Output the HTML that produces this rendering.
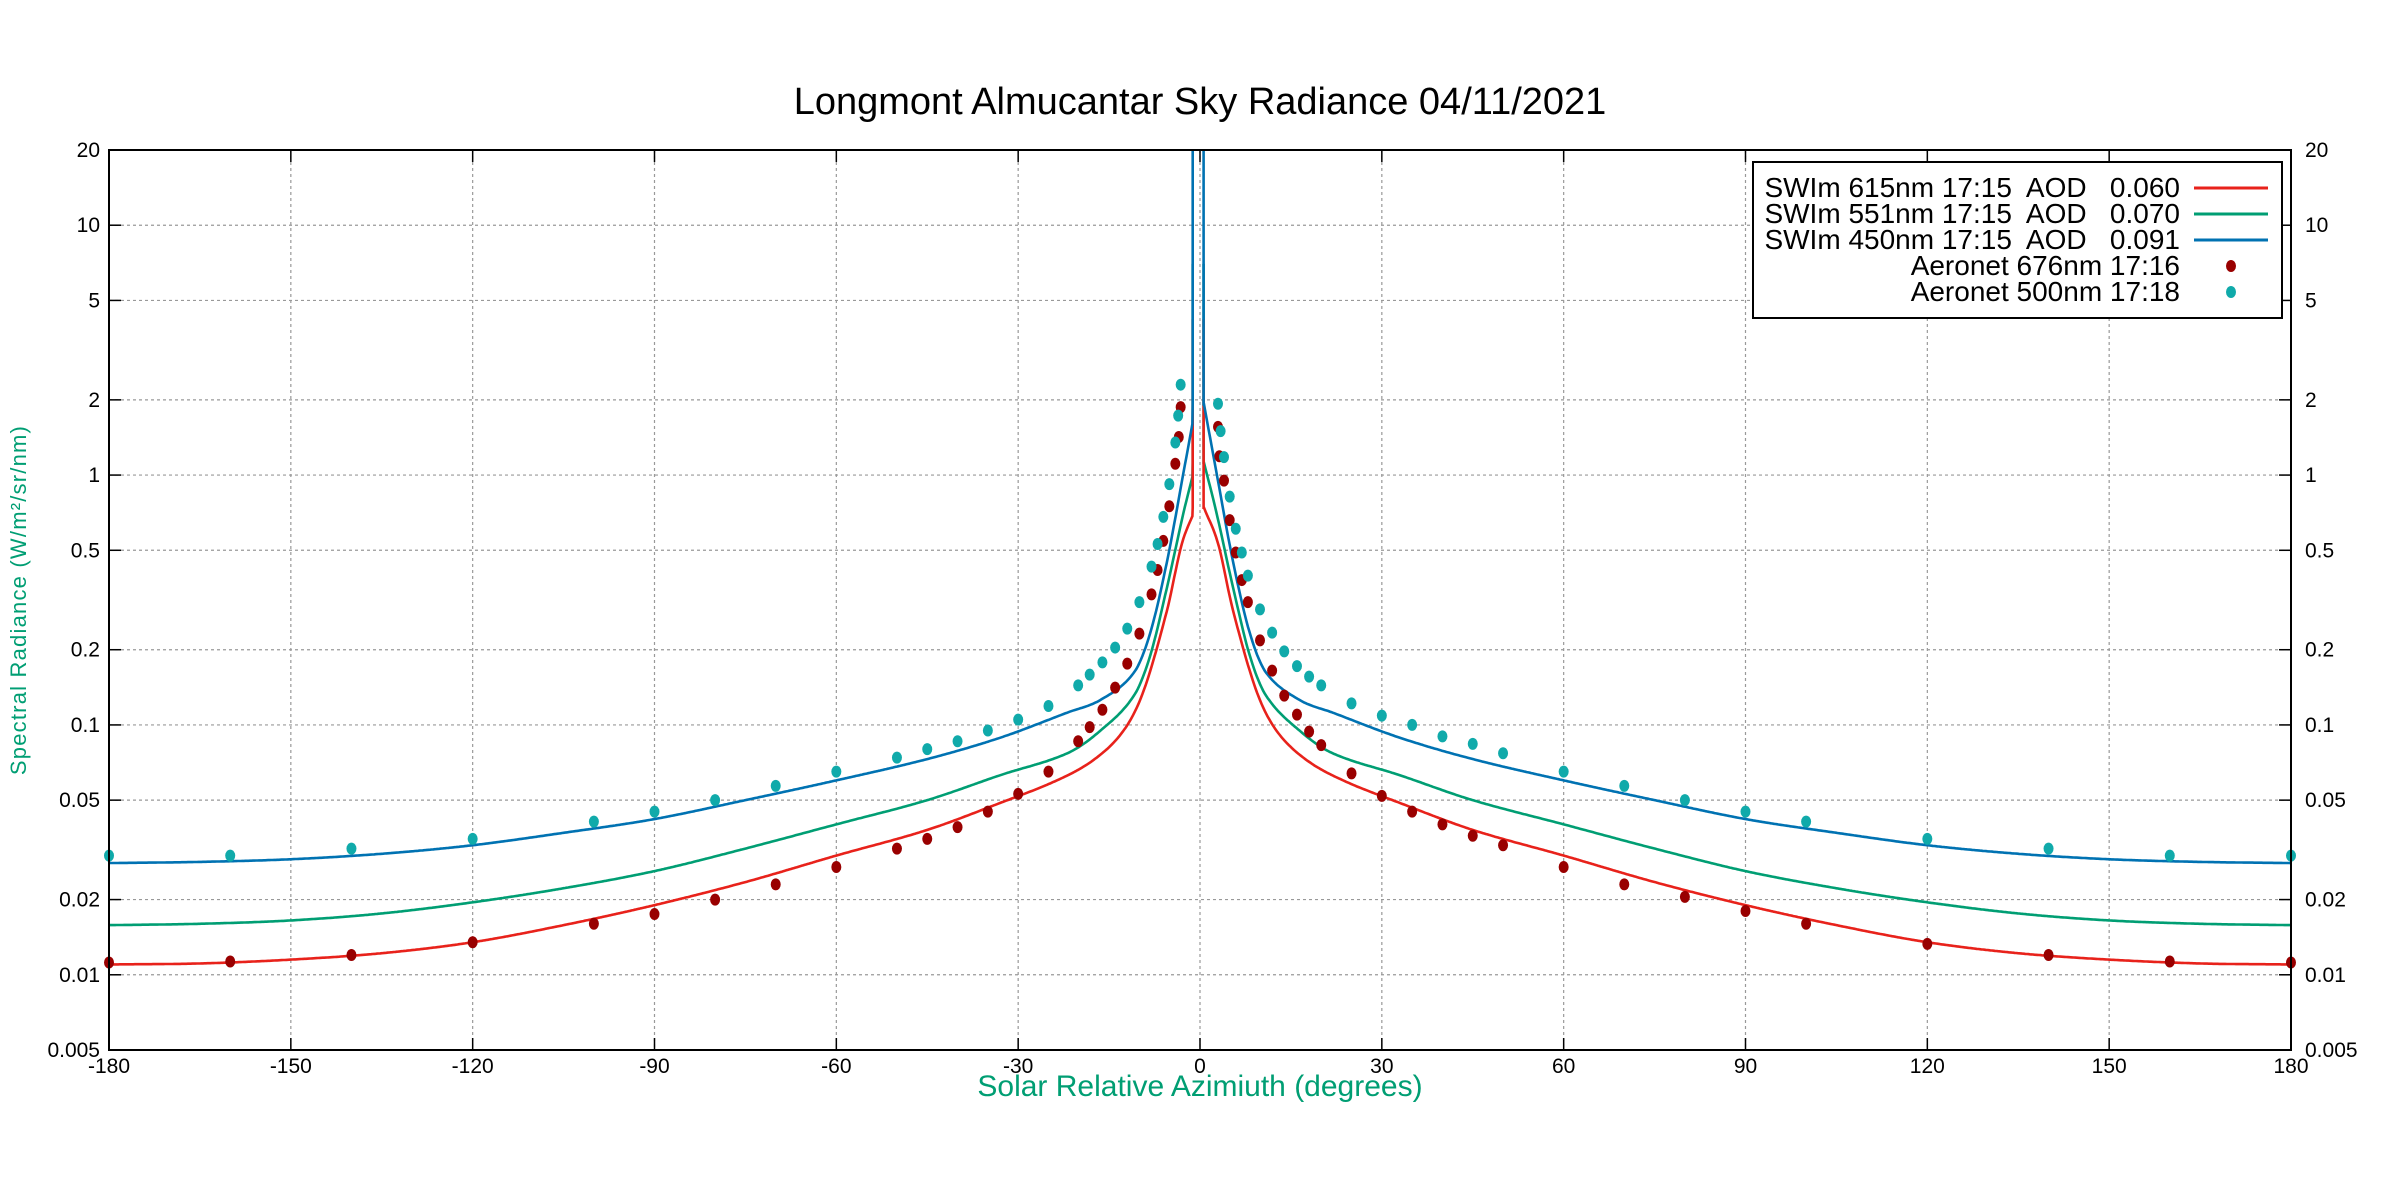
<!DOCTYPE html>
<html><head><meta charset="utf-8"><style>
html,body{margin:0;padding:0;background:#fff;}
svg{display:block;font-family:"Liberation Sans",sans-serif;}
</style></head><body>
<svg id="s" width="2400" height="1200" viewBox="0 0 2400 1200" xmlns="http://www.w3.org/2000/svg">
<rect width="2400" height="1200" fill="#fff"/>
<text x="1200" y="114" font-size="38" text-anchor="middle" fill="#000">Longmont Almucantar Sky Radiance 04/11/2021</text>
<g id="grid"></g>
<g id="curves"></g>
<g id="dots"></g>
<rect x="109" y="150" width="2182" height="900" fill="none" stroke="#000" stroke-width="2"/>
<g id="ticks"></g>
<g id="labels" font-size="21" fill="#000"></g>
<text x="1200" y="1096" font-size="30" text-anchor="middle" fill="#009e73">Solar Relative Azimiuth (degrees)</text>
<text transform="translate(26,600) rotate(-90)" font-size="22" text-anchor="middle" fill="#009e73" letter-spacing="1.2">Spectral Radiance (W/m²/sr/nm)</text>
<g id="legend">
<rect x="1753" y="162" width="529" height="156" fill="#fff" stroke="#000" stroke-width="2"/>
<g font-size="28" text-anchor="end" fill="#000" style="white-space:pre">
<text x="2180" y="197" xml:space="preserve">SWIm 615nm 17:15  AOD   0.060</text>
<text x="2180" y="223" xml:space="preserve">SWIm 551nm 17:15  AOD   0.070</text>
<text x="2180" y="249" xml:space="preserve">SWIm 450nm 17:15  AOD   0.091</text>
<text x="2180" y="275">Aeronet 676nm 17:16</text>
<text x="2180" y="301">Aeronet 500nm 17:18</text>
</g>
<line x1="2194" y1="188" x2="2268" y2="188" stroke="#e8221b" stroke-width="3"/>
<line x1="2194" y1="214" x2="2268" y2="214" stroke="#009e73" stroke-width="3"/>
<line x1="2194" y1="240" x2="2268" y2="240" stroke="#0072b2" stroke-width="3"/>
<ellipse cx="2231" cy="266" rx="5" ry="6" fill="#990000"/>
<ellipse cx="2231" cy="292" rx="5" ry="6" fill="#10aaaa"/>
</g>
</svg>
<script>
var NS="http://www.w3.org/2000/svg";
var L=109,R=2291,T=150,B=1050;
function X(d){return L+(d+180)*(R-L)/360;}
var dec=(B-T)/Math.log10(4000);
function Y(v){return T+(Math.log10(20)-Math.log10(v))*dec;}
function el(p,tag,a){var e=document.createElementNS(NS,tag);for(var k in a)e.setAttribute(k,a[k]);p.appendChild(e);return e;}
var g=document.getElementById('grid'),tk=document.getElementById('ticks'),lb=document.getElementById('labels');
for(var d=-150;d<=150;d+=30){el(g,'line',{x1:X(d),y1:T,x2:X(d),y2:B,stroke:'#999','stroke-width':1.2,'stroke-dasharray':'3,3'});
 el(tk,'line',{x1:X(d),y1:B,x2:X(d),y2:B-12,stroke:'#000','stroke-width':1.5});
 el(tk,'line',{x1:X(d),y1:T,x2:X(d),y2:T+12,stroke:'#000','stroke-width':1.5});}
for(var d=-180;d<=180;d+=30){var t=el(lb,'text',{x:X(d),y:1073,'text-anchor':'middle'});t.textContent=d;}
var yv=[[20,'20'],[10,'10'],[5,'5'],[2,'2'],[1,'1'],[0.5,'0.5'],[0.2,'0.2'],[0.1,'0.1'],[0.05,'0.05'],[0.02,'0.02'],[0.01,'0.01'],[0.005,'0.005']];
yv.forEach(function(p){var y=Y(p[0]);
 if(p[0]<20&&p[0]>0.005){el(g,'line',{x1:L,y1:y,x2:R,y2:y,stroke:'#999','stroke-width':1.2,'stroke-dasharray':'3,3'});
 el(tk,'line',{x1:L,y1:y,x2:L+12,y2:y,stroke:'#000','stroke-width':1.5});
 el(tk,'line',{x1:R,y1:y,x2:R-12,y2:y,stroke:'#000','stroke-width':1.5});}
 var a=el(lb,'text',{x:100,y:y+7,'text-anchor':'end'});a.textContent=p[1];
 var b=el(lb,'text',{x:2305,y:y+7,'text-anchor':'start'});b.textContent=p[1];});
var tabs={
red:[[0.66,0.74],[3,0.53],[5.45,0.287],[9.3,0.137],[12.6,0.095],[17.5,0.0726],[23.6,0.06],[32.9,0.0488],[45,0.038],[60,0.03],[75,0.0235],[90,0.019],[105,0.0158],[120,0.0135],[135,0.0122],[150,0.0115],[165,0.0111],[180,0.011]],
green:[[0.66,1.12],[2.7,0.71],[5.45,0.355],[8.2,0.19],[10.9,0.131],[16.4,0.095],[21.9,0.077],[32.9,0.063],[45,0.05],[60,0.04],[75,0.032],[90,0.026],[105,0.0222],[120,0.0195],[135,0.0176],[150,0.0165],[165,0.016],[180,0.0158]],
blue:[[0.66,1.92],[2.7,1.03],[5.45,0.45],[8.2,0.234],[10.9,0.162],[16.4,0.126],[21.9,0.112],[32.9,0.089],[45,0.073],[60,0.06],[75,0.05],[90,0.042],[105,0.037],[120,0.033],[135,0.0305],[150,0.029],[165,0.0283],[180,0.028]]};
function interp(tab,x){var n=tab.length;if(x<=tab[0][0])return Math.log10(tab[0][1]);
 for(var i=0;i<n-1;i++){if(x<=tab[i+1][0]){var x0=tab[i][0],x1=tab[i+1][0];var y0=Math.log10(tab[i][1]),y1=Math.log10(tab[i+1][1]);
  var ym=i>0?Math.log10(tab[i-1][1]):y0-(y1-y0),xm=i>0?tab[i-1][0]:x0-(x1-x0);
  var yp=i<n-2?Math.log10(tab[i+2][1]):y1+(y1-y0),xp=i<n-2?tab[i+2][0]:x1+(x1-x0);
  var h=x1-x0,t=(x-x0)/h;var m0=(y1-ym)/(x1-xm)*h,m1=(yp-y0)/(xp-x0)*h;
  var t2=t*t,t3=t2*t;return (2*t3-3*t2+1)*y0+(t3-2*t2+t)*m0+(-2*t3+3*t2)*y1+(t3-t2)*m1;}}
 return Math.log10(tab[n-1][1]);}
var cols={red:'#e8221b',green:'#009e73',blue:'#0072b2'};var peak={red:4.2,green:7,blue:40};
var cg=document.getElementById('curves');
['green','red','blue'].forEach(function(k){var tab=tabs[k];
 var pts=[];for(var d=-180;d<=-1.2;d+=0.25){pts.push([X(d),T+(Math.log10(20)-interp(tab,Math.abs(d)))*dec]);}
 pts.push([X(-1.2),Y(tabs[k][0][1])]);pts.push([X(-1.2),Math.max(T,Y(peak[k]))]);
 var p2=[[X(0.6),Math.max(T,Y(peak[k]))],[X(0.6),Y(tabs[k][0][1])]];
 for(var d=0.66;d<=180;d+=0.25){p2.push([X(d),T+(Math.log10(20)-interp(tab,d))*dec]);}
 function path(a){return 'M'+a.map(function(p){return p[0].toFixed(1)+','+p[1].toFixed(1);}).join('L');}
 el(cg,'path',{d:path(pts),fill:'none',stroke:cols[k],'stroke-width':2.6});
 el(cg,'path',{d:path(p2),fill:'none',stroke:cols[k],'stroke-width':2.6});});
var rd=[[-180,0.0112],[-160,0.0113],[-140,0.012],[-120,0.0135],[-100,0.016],[-90,0.0175],[-80,0.02],[-70,0.023],[-60,0.027],[-50,0.032],[-45,0.035],[-40,0.039],[-35,0.045],[-30,0.053],[-25,0.065],[-20.1,0.086],[-18.2,0.098],[-16.1,0.115],[-14,0.141],[-12,0.176],[-10,0.232],[-8,0.333],[-7,0.417],[-6.05,0.545],[-5.06,0.75],[-4.07,1.11],[-3.5,1.42],[-3.19,1.87],
[2.97,1.56],[3.2,1.19],[3.96,0.95],[4.9,0.66],[5.9,0.49],[6.9,0.38],[7.9,0.31],[9.9,0.218],[11.9,0.165],[13.9,0.131],[16,0.11],[18,0.094],[20,0.083],[25,0.064],[30,0.052],[35,0.045],[40,0.04],[45,0.036],[50,0.033],[60,0.027],[70,0.023],[80,0.0205],[90,0.018],[100,0.016],[120,0.0133],[140,0.012],[160,0.0113],[180,0.0112]];
var td=[[-180,0.03],[-160,0.03],[-140,0.032],[-120,0.035],[-100,0.041],[-90,0.045],[-80,0.05],[-70,0.057],[-60,0.065],[-50,0.074],[-45,0.08],[-40,0.086],[-35,0.095],[-30,0.105],[-25,0.119],[-20.1,0.144],[-18.2,0.159],[-16.1,0.178],[-14,0.204],[-12,0.243],[-10,0.31],[-8,0.43],[-7,0.53],[-6.05,0.68],[-5.06,0.92],[-4.07,1.35],[-3.6,1.73],[-3.19,2.3],
[2.97,1.93],[3.4,1.5],[3.96,1.18],[4.9,0.82],[5.9,0.61],[6.9,0.49],[7.9,0.396],[9.9,0.29],[11.9,0.234],[13.9,0.197],[16,0.172],[18,0.156],[20,0.144],[25,0.122],[30,0.109],[35,0.1],[40,0.09],[45,0.084],[50,0.077],[60,0.065],[70,0.057],[80,0.05],[90,0.045],[100,0.041],[120,0.035],[140,0.032],[160,0.03],[180,0.03]];
var dg=document.getElementById('dots');
rd.forEach(function(p){el(dg,'ellipse',{cx:X(p[0]),cy:Y(p[1]),rx:5,ry:6,fill:'#990000'});});
td.forEach(function(p){el(dg,'ellipse',{cx:X(p[0]),cy:Y(p[1]),rx:5,ry:6,fill:'#10aaaa'});});
</script>
</body></html>
